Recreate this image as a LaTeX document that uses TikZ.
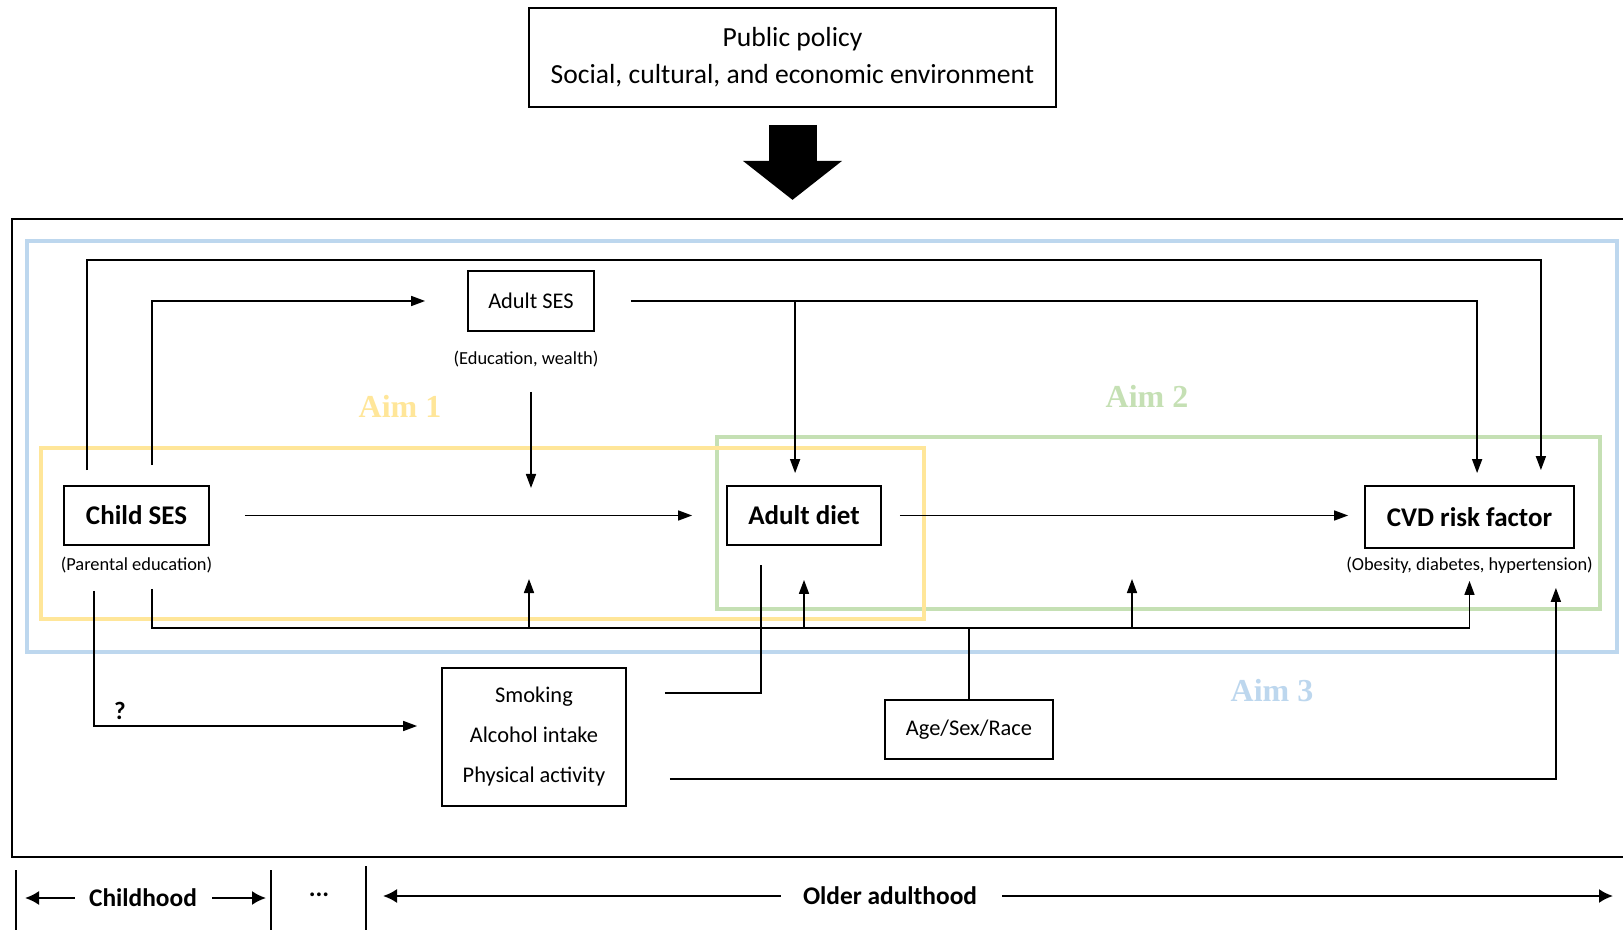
\documentclass[tikz,border=0pt]{standalone}
\usepackage{fontspec}
\setmainfont{Carlito}
\newfontfamily\aimfont{Liberation Serif}
\usetikzlibrary{arrows.meta,calc}
\definecolor{aimOneCol}{HTML}{FFE699}
\definecolor{aimTwoCol}{HTML}{C5E0B4}
\definecolor{aimThreeCol}{HTML}{BDD7EE}

\begin{document}
\begin{tikzpicture}[
    x=0.5pt, y=-0.5pt,
    >={Triangle[length=7pt,width=5pt]},
    box/.style={draw, line width=0.9pt, inner sep=2pt, align=center},
    keybox/.style={box, minimum height=29.5pt, font=\fontsize{13.5}{16}\selectfont\bfseries},
    sidebox/.style={box, font=\fontsize{11.2}{14}\selectfont},
    note/.style={inner sep=1pt, font=\fontsize{9.2}{11}\selectfont},
    aim/.style={font=\aimfont\fontsize{16}{18}\selectfont\bfseries},
    region/.style={line width=2pt},
    frame/.style={line width=1pt},
    arr/.style={->, line width=0.8pt},
    link/.style={line width=0.8pt},
    period/.style={inner sep=2pt, font=\fontsize{12.7}{15}\selectfont\bfseries},
    tarr/.style={-{Latex[length=7pt,width=7pt]}, line width=1pt},
    tick/.style={line width=0.9pt},
  ]

\useasboundingbox (0,0) rectangle (1623,930);

% Policy on top
\node[box, minimum width=263.5pt, minimum height=49.5pt,
      font=\fontsize{13.8}{18.5}\selectfont] (policy) at (792.5,57.5)
  {Public policy\\Social, cultural, and economic environment};
\draw[-{Triangle[length=19.5pt,width=48.5pt]}, line width=24pt]
  ([yshift=-8.5pt]policy.south) -- ++(0,75);

% Frame of the life course
\draw[frame] (1623,219) -| (12,857) -- (1623,857);

% Aim regions
\draw[region, aimThreeCol] (27,241) rectangle (1617,652);
\draw[region, aimTwoCol] (717,437) rectangle (1600,609);
\draw[region, aimOneCol] (41,448) rectangle (924,619);
\node[aim, text=aimOneCol] (aimone) at (400,406) {Aim 1};
\node[aim, text=aimTwoCol] (aimtwo) at (1147,396) {Aim 2};
\node[aim, text=aimThreeCol] (aimthree) at (1272,691) {Aim 3};

% Main chain
\node[keybox, minimum width=72.5pt] (childses) at (136.5,515.5) {Child SES};
\node[note] (childnote) at (136.5,565) {(Parental education)};
\node[keybox, minimum width=77pt] (adultdiet) at (804,515.5) {Adult diet};
\node[keybox, minimum width=104.5pt, minimum height=31pt] (cvd) at (1469.5,517) {CVD risk factor};
\node[note] (cvdnote) at (1469.5,565) {(Obesity, diabetes, hypertension)};

% Adult SES
\node[sidebox, minimum width=63pt, minimum height=30pt] (adultses) at (531,301) {Adult SES};
\node[note] (sesnote) at (526,359) {(Education, wealth)};

% Behaviours and covariates
\node[sidebox, minimum width=92pt, minimum height=69pt,
      font=\fontsize{11.2}{20}\selectfont] (behav) at (534,737)
  {Smoking\\Alcohol intake\\Physical activity};
\node[sidebox, minimum width=84pt, minimum height=29.5pt] (demog) at (969,729.5) {Age/Sex/Race};

% Arrows -- main flow
\draw[arr, shorten <=17.5pt, shorten >=17pt] (childses) -- (adultdiet);
\draw[arr, shorten <=9pt, shorten >=8pt] (adultdiet.east) -- (adultdiet.east -| cvd.west);

% Child SES over the top
\draw[arr] ([xshift=12pt,yshift=7.5pt]childses.north west) -- ++(0,-210)
  -| ([xshift=-17pt,yshift=7.5pt]cvd.north east);
\draw[arr] ([xshift=44.5pt,yshift=10pt]childses.north west) |- ([xshift=-21pt]adultses.west);

% Adult SES onwards
\draw[arr] ([xshift=18pt]adultses.east) -| ([xshift=56.5pt,yshift=6pt]cvd.north west);
\coordinate (dietin) at ([xshift=34.5pt,yshift=6pt]adultdiet.north west);
\draw[arr] (dietin |- adultses.east) -- (dietin);
\coordinate (modA) at (531,488);
\draw[arr] ([yshift=-30pt]adultses.south) -- (modA);

% Covariates bus
\draw[link] (demog.north) -- ++(0,-71) coordinate (busjoin);
\coordinate (cvdbus) at ([yshift=-16pt]cvd.south);
\draw[arr] ([xshift=44.5pt,yshift=-21.5pt]childses.south west) |- (busjoin) -| (cvdbus);
\coordinate (modB) at (529,579);
\coordinate (dietbus) at ([yshift=-17pt]adultdiet.south);
\coordinate (modC) at (1132,579);
\draw[arr] (modB |- busjoin) -- (modB);
\draw[arr] (dietbus |- busjoin) -- (dietbus);
\draw[arr] (modC |- busjoin) -- (modC);

% Behaviours
\draw[arr] ([xshift=15.5pt,yshift=-22.5pt]childses.south west)
  |- node[pos=0.54, above, inner sep=3pt, font=\fontsize{12.5}{15}\selectfont\bfseries] {?}
  ([xshift=-12pt,yshift=5.5pt]behav.west);
\draw[link] ([xshift=19pt,yshift=22pt]behav.east) -| ([xshift=-21.5pt,yshift=-9.5pt]adultdiet.south);
\draw[arr] ([xshift=21.5pt,yshift=-21pt]behav.east) -| ([xshift=-9.5pt,yshift=-19.5pt]cvd.south east);

% Life course timeline
\coordinate (sepA) at (16,870);
\coordinate (sepB) at (271,870);
\coordinate (sepC) at (366,866);
\coordinate (timeend) at (1613,870);
\draw[tick] (sepA) -- (sepA |- 0,930);
\draw[tick] (sepB) -- (sepB |- 0,930);
\draw[tick] (sepC) -- (sepC |- 0,930);
\node[period] (childhood) at (143,898) {Childhood};
\node[period] (dots) at (319,895) {...};
\node[period] (older) at (890,896) {Older adulthood};
\draw[tarr, shorten <=5pt, shorten >=4.5pt] (childhood.west) -- (childhood.west -| sepA);
\draw[tarr, shorten <=5.5pt, shorten >=2.5pt] (childhood.east) -- (childhood.east -| sepB);
\draw[tarr, shorten <=9pt, shorten >=8.5pt] (older.west) -- (older.west -| sepC);
\draw[tarr, shorten <=10.5pt] (older.east) -- (older.east -| timeend);

\end{tikzpicture}
\end{document}
